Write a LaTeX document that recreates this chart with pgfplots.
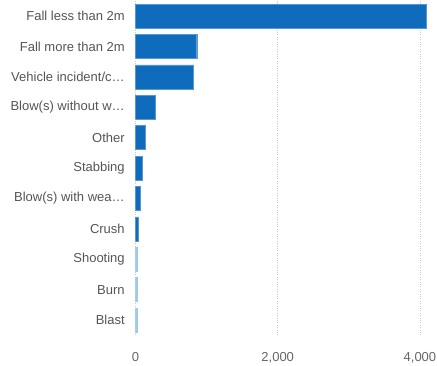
\documentclass[border=0pt]{standalone}
\usepackage{pgfplots}
\pgfplotsset{compat=1.18}
\usepackage{fontspec}
\setmainfont{Liberation Sans}
\definecolor{barblue}{HTML}{0F6CBD}
\definecolor{barlight}{HTML}{9FCBEB}
\definecolor{labgrey}{HTML}{555555}
\definecolor{tickgrey}{HTML}{666666}
\definecolor{gridgrey}{HTML}{C8C8C8}
\begin{document}
\begin{tikzpicture}
\begin{axis}[
  scale only axis,
  width=295.1pt, height=334.4pt,
  xmin=0, xmax=4150,
  ymin=-0.5, ymax=10.5,
  y dir=reverse,
  xbar, bar width=24pt, bar shift=0pt,
  ytick={0,1,2,3,4,5,6,7,8,9,10},
  yticklabels={Fall less than 2m,Fall more than 2m,Vehicle incident/c\ldots,Blow(s) without w\ldots,Other,Stabbing,Blow(s) with wea\ldots,Crush,Shooting,Burn,Blast},
  xtick={0,2000,4000},
  xticklabel style={/pgf/number format/1000 sep={,}, text=tickgrey, font=\fontsize{13}{15}\selectfont},
  /pgf/number format/assume math mode=true,
  yticklabel style={text=labgrey, font=\fontsize{13}{15}\selectfont, xshift=-3pt},
  xticklabel style={yshift=-14pt},
  axis line style={draw=none},
  major tick style={draw=none},
  xmajorgrids,
  major grid style={gridgrey, dotted, line width=0.8pt},
]
\addplot[fill=barblue, draw=barblue!70!white, line width=0.4pt] coordinates {
(4090,0) (861,1) (813,2) (284,3) (143,4) (96,5) (73,6) (40,7)
};
\addplot[fill=barlight, draw=barlight, line width=0.4pt] coordinates {
(28,8) (25,9) (22,10)
};
\end{axis}
\pgfresetboundingbox
\useasboundingbox (-135.5pt,-29.8pt) rectangle (301.5pt,335.2pt);
\end{tikzpicture}
\end{document}
